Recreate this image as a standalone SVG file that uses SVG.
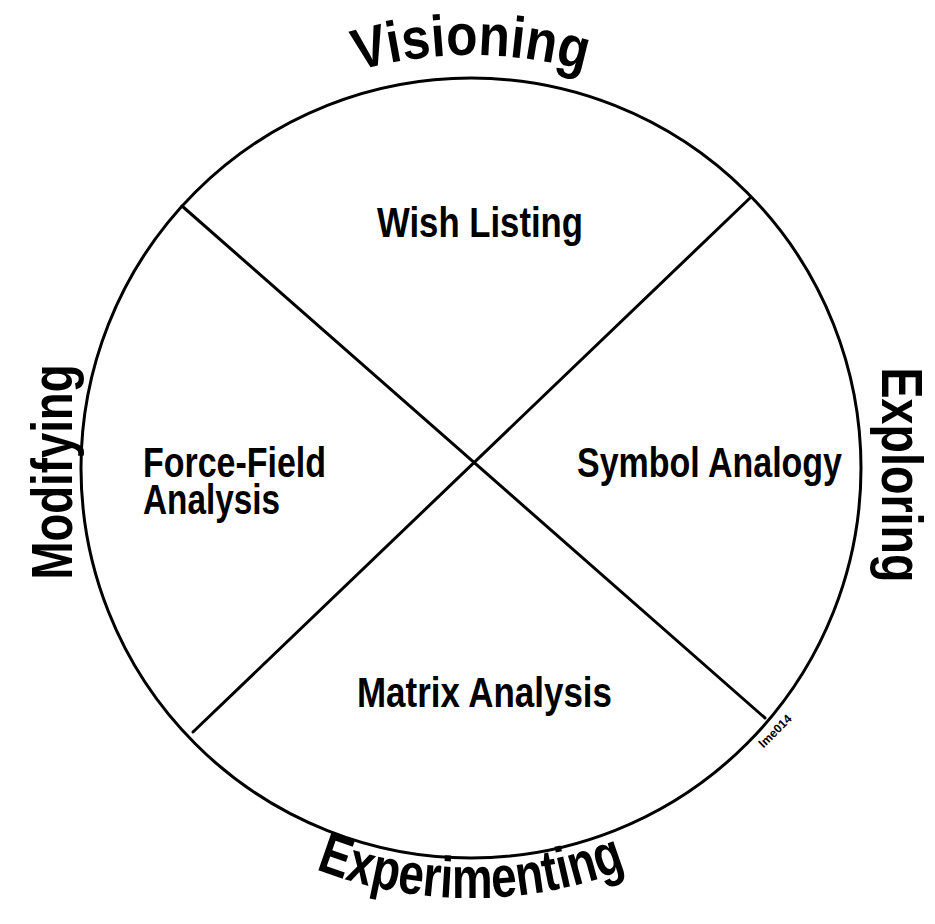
<svg xmlns="http://www.w3.org/2000/svg" width="935" height="924" viewBox="0 0 935 924">
<style>
  .ln { fill: none; stroke: #000; stroke-width: 3; stroke-linecap: round; }
  .in { font-family: "Liberation Sans", Arial, sans-serif; font-weight: bold; font-size: 43px; fill: #000; }
  .out { font-family: "Liberation Sans", Arial, sans-serif; font-weight: bold; font-size: 58px; fill: #000; }
  .tag { font-family: "Liberation Sans", Arial, sans-serif; font-weight: bold; font-size: 12px; fill: #000; }
</style>
<defs>
  <path id="arcTop" d="M113.3,261.5 A413,413 0 0 1 828.7,261.5"/>
  <path id="arcBot" d="M98.6,683 A430,430 0 0 0 843.4,683"/>
</defs>
<rect width="935" height="924" fill="#fff"/>
<g id="connectors">
  <circle class="ln" cx="471" cy="468" r="390"/>
  <line class="ln" x1="182" y1="206" x2="765" y2="718"/>
  <line class="ln" x1="750" y1="198" x2="193" y2="732"/>
</g>
<g id="wish-listing"><text class="in" x="480" y="237" text-anchor="middle" textLength="206" lengthAdjust="spacingAndGlyphs">Wish Listing</text></g>
<g id="force-field"><text class="in"><tspan x="143" y="477" textLength="183" lengthAdjust="spacingAndGlyphs">Force-Field</tspan><tspan x="143" y="514" textLength="137" lengthAdjust="spacingAndGlyphs">Analysis</tspan></text></g>
<g id="symbol-analogy"><text class="in" x="577" y="477" textLength="265" lengthAdjust="spacingAndGlyphs">Symbol Analogy</text></g>
<g id="matrix-analysis"><text class="in" x="357" y="707" textLength="255" lengthAdjust="spacingAndGlyphs">Matrix Analysis</text></g>
<g id="visioning"><text class="out" text-anchor="middle"><textPath href="#arcTop" startOffset="50%" textLength="230" lengthAdjust="spacingAndGlyphs">Visioning</textPath></text></g>
<g id="experimenting"><text class="out" text-anchor="middle"><textPath href="#arcBot" startOffset="50%" textLength="318" lengthAdjust="spacingAndGlyphs">Experimenting</textPath></text></g>
<g id="modifying"><text class="out" transform="translate(72,472) rotate(-90)" text-anchor="middle" textLength="215" lengthAdjust="spacingAndGlyphs">Modifying</text></g>
<g id="exploring"><text class="out" transform="translate(882,475) rotate(90)" text-anchor="middle" textLength="215" lengthAdjust="spacingAndGlyphs">Exploring</text></g>
<g id="tag"><text class="tag" transform="translate(778,734) rotate(-45)" text-anchor="middle">lme014</text></g>
</svg>
